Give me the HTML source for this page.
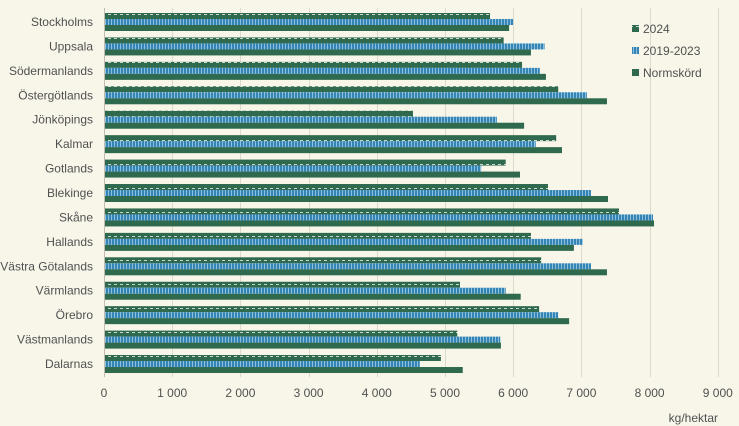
<!DOCTYPE html>
<html><head><meta charset="utf-8"><style>
body{margin:0;background:#f8f6e9;}
svg{display:block;font-family:"Liberation Sans",sans-serif;}
</style></head><body>
<svg width="739" height="426" viewBox="0 0 739 426">
<defs>
<pattern id="p24" width="6" height="6" patternUnits="userSpaceOnUse">
<rect width="6" height="6" fill="#2f6a4e"/><rect x="0" y="2" width="3" height="1" fill="#c9d8cf"/>
</pattern>
<pattern id="p19" width="3" height="6" patternUnits="userSpaceOnUse">
<rect width="3" height="6" fill="#3485b5"/><rect x="0" y="0" width="1" height="6" fill="#8cc0dd"/>
</pattern>
</defs>
<rect width="739" height="426" fill="#f8f6e9"/>
<g stroke="#dcdacb" stroke-width="1" id="grid"></g>
<g id="bars"></g>
<g id="labels" font-size="12" fill="#505050"></g>
<line x1="104.5" y1="8" x2="104.5" y2="377" stroke="#bfbdb0"/>
<text x="718" y="422" font-size="12" fill="#505050" text-anchor="end">kg/hektar</text>
<rect x="632" y="25" width="7" height="7" fill="url(#p24)"/><text x="643" y="33" font-size="12" fill="#505050">2024</text>
<rect x="632" y="47" width="7" height="7" fill="url(#p19)"/><text x="643" y="55" font-size="12" fill="#505050">2019-2023</text>
<rect x="632" y="69" width="7" height="7" fill="#2f6a4e"/><text x="643" y="77" font-size="12" fill="#505050">Normskörd</text>
</svg>
<script>
const d=[["Stockholms",5660,6000,5940],["Uppsala",5860,6460,6260],["Södermanlands",6130,6390,6480],["Östergötlands",6660,7080,7375],["Jönköpings",4530,5760,6160],["Kalmar",6630,6330,6715],["Gotlands",5890,5530,6100],["Blekinge",6510,7140,7390],["Skåne",7550,8050,8065],["Hallands",6260,7020,6890],["Västra Götalands",6410,7140,7375],["Värmlands",5220,5890,6110],["Örebro",6380,6660,6820],["Västmanlands",5180,5810,5820],["Dalarnas",4940,4630,5260]];
const ns="http://www.w3.org/2000/svg",X=v=>104+v*0.0682;
function el(t,a,p,tx){const e=document.createElementNS(ns,t);for(const k in a)e.setAttribute(k,a[k]);if(tx!=null)e.textContent=tx;document.getElementById(p).appendChild(e);}
for(let i=1;i<=9;i++){const x=Math.round(X(i*1000))+.5;el("line",{x1:x,y1:8,x2:x,y2:377},"grid");}
for(let i=0;i<=9;i++){el("text",{x:X(i*1000),y:397,"text-anchor":"middle"},"labels",i==0?"0":i+" 000");}
d.forEach((r,i)=>{const c=22+i*24.43;const y0=c-9;
el("rect",{x:104,y:y0,width:X(r[1])-104,height:6,fill:"url(#p24)"},"bars");
el("rect",{x:104,y:y0+6,width:X(r[2])-104,height:6,fill:"url(#p19)"},"bars");
el("rect",{x:104,y:y0+12,width:X(r[3])-104,height:6,fill:"#2f6a4e"},"bars");
el("text",{x:93,y:c+4,"text-anchor":"end"},"labels",r[0]);});
</script>
</body></html>
